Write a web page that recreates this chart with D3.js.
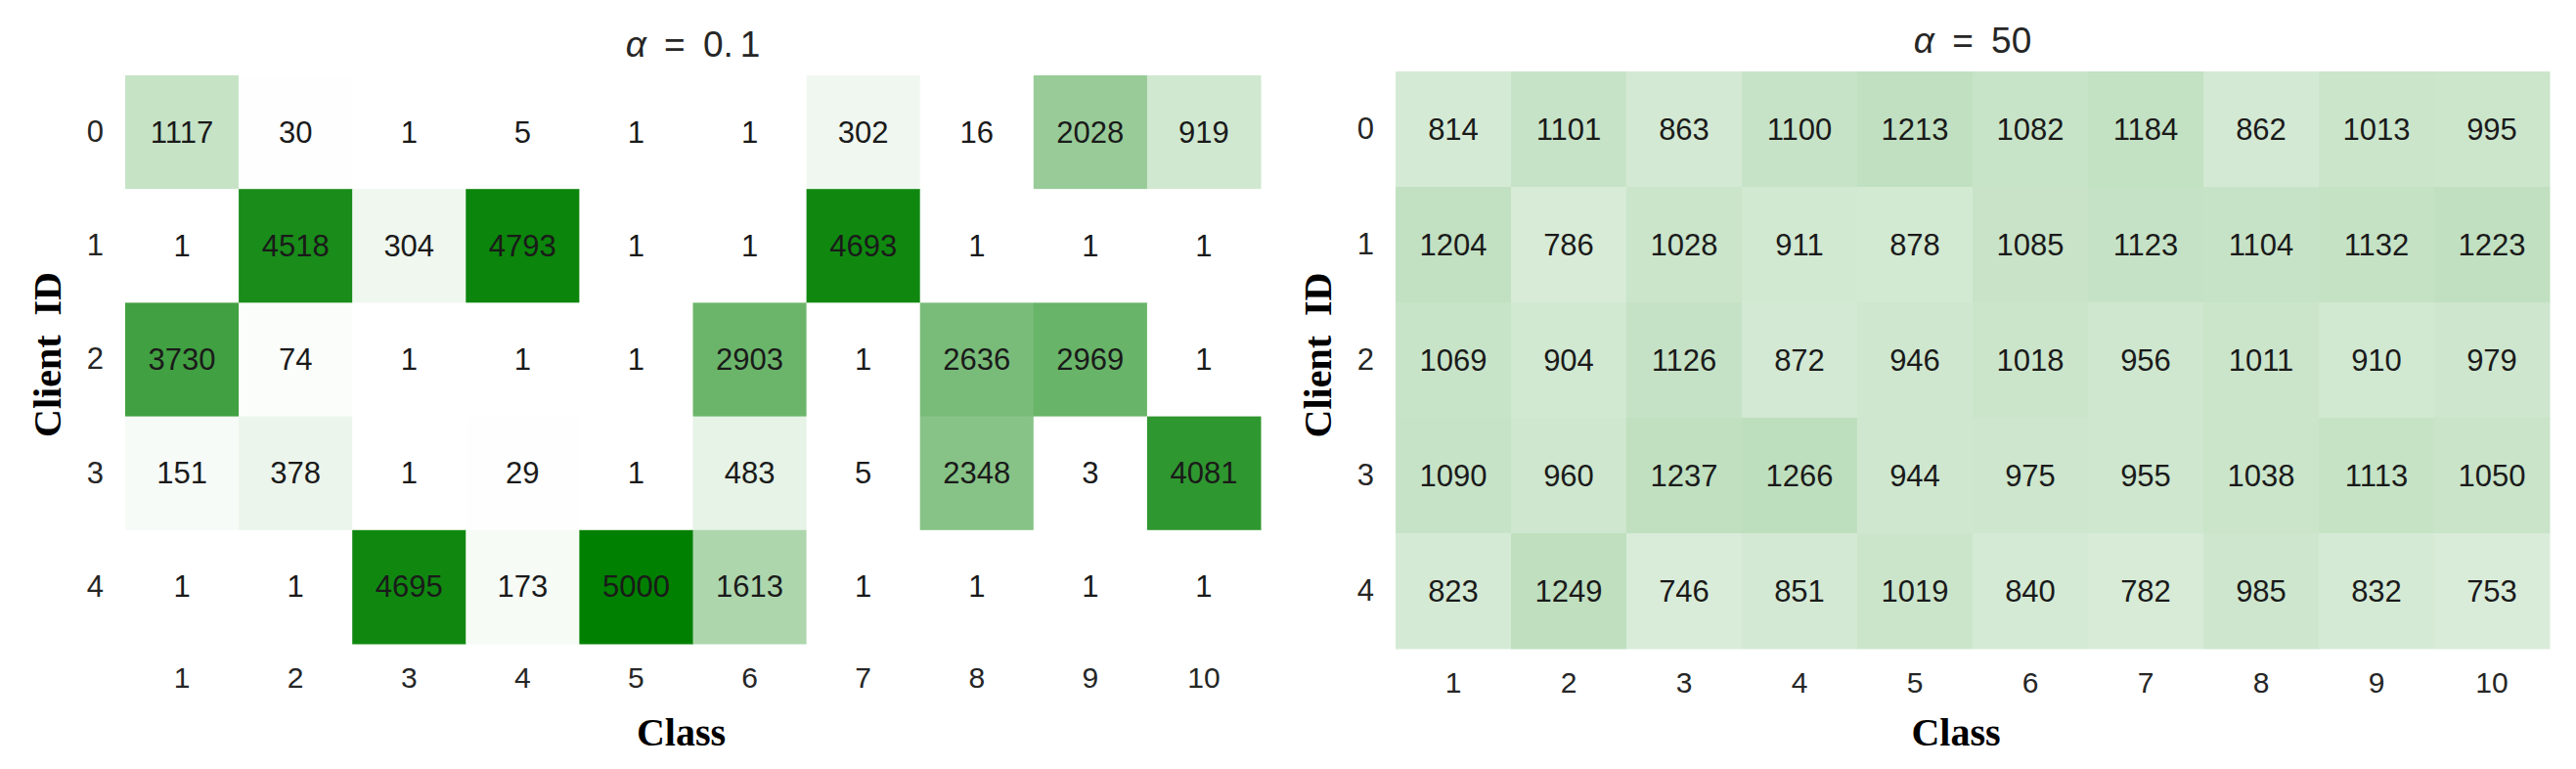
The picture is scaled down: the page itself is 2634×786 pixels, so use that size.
<!DOCTYPE html>
<html>
<head>
<meta charset="utf-8">
<script src="https://cdn.jsdelivr.net/npm/d3@7"></script>
<style>
  body { margin: 0; background: #fff; }
  svg { display: block; }
  .tick text { font-family: "Liberation Sans", Arial, sans-serif; fill: #262626; }
  .cell-label { font-family: "Liberation Sans", Arial, sans-serif; fill: #1a1a1a; }
  .axis-title { font-family: "Liberation Serif", "Times New Roman", serif; font-weight: bold; fill: #000; }
  .panel-title { font-family: "Liberation Sans", Arial, sans-serif; fill: #262626; }
</style>
</head>
<body>
<div id="chart"></div>
<script>
(function () {
    // tick labels
    const classes = ["1", "2", "3", "4", "5", "6", "7", "8", "9", "10"];
    const clients = ["0", "1", "2", "3", "4"];

    // samples per client (rows) and class (columns), alpha = 0.1
    const alphaLow = [
        [1117, 30, 1, 5, 1, 1, 302, 16, 2028, 919],
        [1, 4518, 304, 4793, 1, 1, 4693, 1, 1, 1],
        [3730, 74, 1, 1, 1, 2903, 1, 2636, 2969, 1],
        [151, 378, 1, 29, 1, 483, 5, 2348, 3, 4081],
        [1, 1, 4695, 173, 5000, 1613, 1, 1, 1, 1]
    ];

    // alpha = 50
    const alphaHigh = [
        [814, 1101, 863, 1100, 1213, 1082, 1184, 862, 1013, 995],
        [1204, 786, 1028, 911, 878, 1085, 1123, 1104, 1132, 1223],
        [1069, 904, 1126, 872, 946, 1018, 956, 1011, 910, 979],
        [1090, 960, 1237, 1266, 944, 975, 955, 1038, 1113, 1050],
        [823, 1249, 746, 851, 1019, 840, 782, 985, 832, 753]
    ];

    const width = 2634, height = 786;

    const svg = d3.select("#chart").append("svg")
        .attr("width", width)
        .attr("height", height);

    // same colour range on both panels
    const color = d3.scaleLinear()
        .domain([0, 5000])
        .range(["#ffffff", "#008000"])
        .clamp(true);

    const panels = [
        { data: alphaLow, prefix: "0.", suffix: "1", x0: 128, x1: 1289, y0: 77, y1: 658, labelShift: -12 },
        { data: alphaHigh, prefix: "50", suffix: "", x0: 1427, x1: 2607, y0: 73, y1: 663, labelShift: -17 }
    ];

    panels.forEach(p => {
        const x = d3.scaleBand().domain(classes).range([p.x0, p.x1]).padding(0);
        const y = d3.scaleBand().domain(clients).range([p.y0, p.y1]).padding(0);

        const cells = [];
        p.data.forEach((row, i) => {
            row.forEach((v, j) => cells.push({ client: clients[i], cls: classes[j], value: v }));
        });

        const g = svg.append("g");

        g.selectAll("rect")
            .data(cells)
            .join("rect")
            .attr("x", d => x(d.cls))
            .attr("y", d => y(d.client))
            .attr("width", x.bandwidth() + 0.5)
            .attr("height", y.bandwidth() + 0.5)
            .attr("fill", d => color(d.value));

        g.selectAll("text.cell-label")
            .data(cells)
            .join("text")
            .attr("class", "cell-label")
            .attr("x", d => x(d.cls) + x.bandwidth() / 2)
            .attr("y", d => y(d.client) + y.bandwidth() / 2)
            .attr("text-anchor", "middle")
            .attr("dominant-baseline", "central")
            .attr("font-size", 31)
            .text(d => d.value);

        // x axis (no line, no ticks)
        const xAxis = svg.append("g")
            .attr("transform", `translate(0,${p.y1})`)
            .call(d3.axisBottom(x).tickSize(0).tickPadding(24));
        xAxis.select(".domain").remove();
        xAxis.selectAll("text").attr("font-size", 30);

        const yAxis = svg.append("g")
            .attr("transform", `translate(${p.x0},0)`)
            .call(d3.axisLeft(y).tickSize(0).tickPadding(22));
        yAxis.select(".domain").remove();
        yAxis.selectAll("text").attr("font-size", 31);

        const cx = (p.x0 + p.x1) / 2;

        // panel title, alpha in italic
        const title = svg.append("text")
            .attr("class", "panel-title")
            .attr("x", cx)
            .attr("y", p.y0 - 19)
            .attr("text-anchor", "middle")
            .attr("font-size", 37)
            .attr("word-spacing", 8);
        title.append("tspan").attr("font-style", "italic").text("α");
        title.append("tspan").text(" = " + p.prefix);
        if (p.suffix) title.append("tspan").attr("dx", 7).text(p.suffix);

        svg.append("text")
            .attr("class", "axis-title")
            .attr("x", cx + p.labelShift)
            .attr("y", 762)
            .attr("text-anchor", "middle")
            .attr("font-size", 40)
            .text("Class");

        svg.append("text")
            .attr("class", "axis-title")
            .attr("transform", `translate(${p.x0 - 66},${(p.y0 + p.y1) / 2 - 5}) rotate(-90)`)
            .attr("text-anchor", "middle")
            .attr("font-size", 40)
            .attr("word-spacing", 10)
            .text("Client ID");
    });
})();
</script>
</body>
</html>
